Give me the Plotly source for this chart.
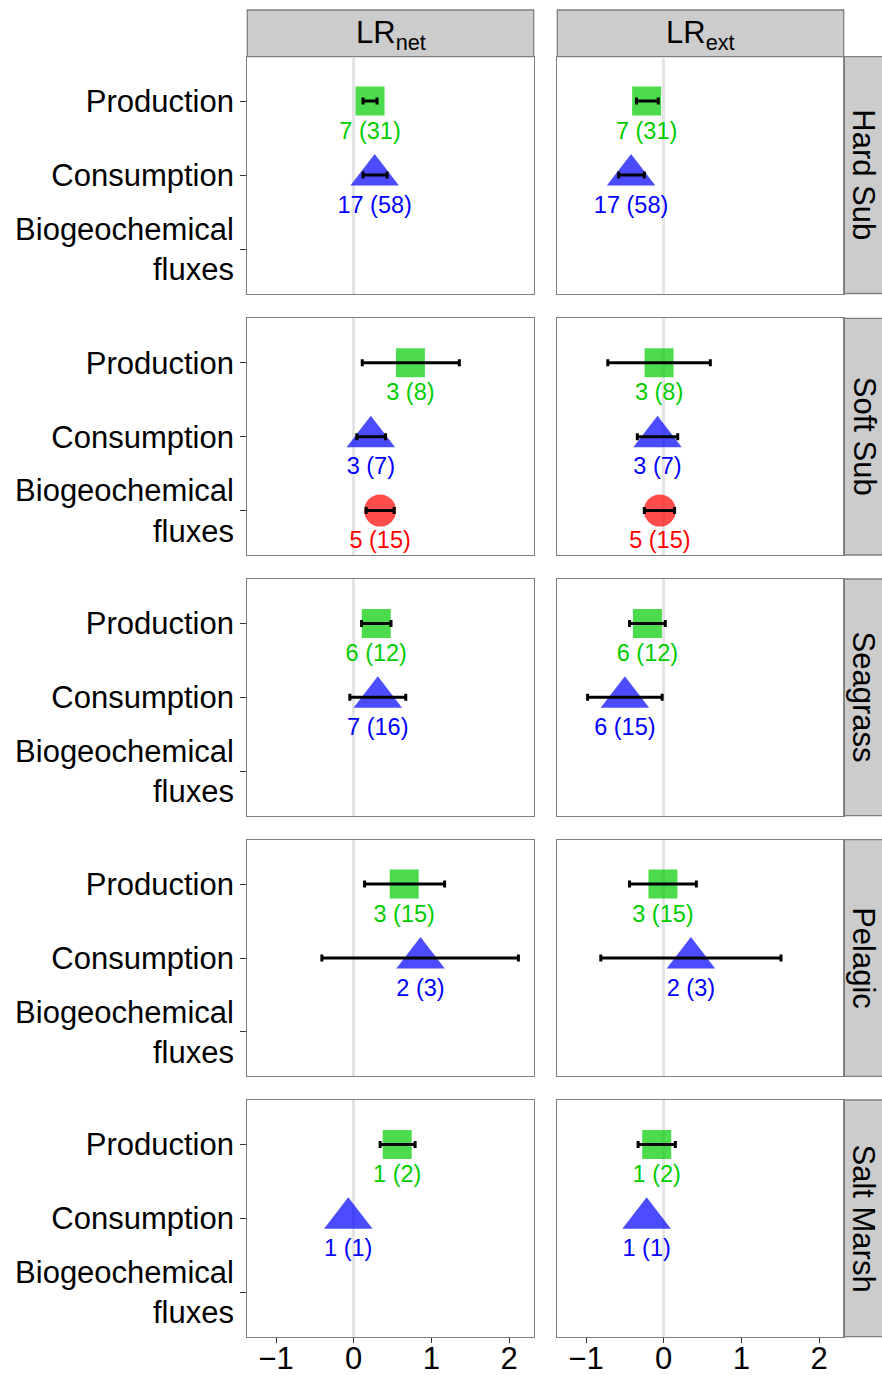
import plotly.graph_objects as go

# ---- data -------------------------------------------------------------
habitats = ["Hard Sub", "Soft Sub", "Seagrass", "Pelagic", "Salt Marsh"]
metrics = ["LR<sub>net</sub>", "LR<sub>ext</sub>"]
responses = ["Production", "Consumption", "Biogeochemical<br>fluxes"]
x_ticks = [-1, 0, 1, 2]

# Production: mean log response ratio with CI bounds, per habitat
prod_net_mean = [0.21, 0.73, 0.29, 0.65, 0.56]
prod_net_lo = [0.12, 0.11, 0.10, 0.14, 0.34]
prod_net_hi = [0.30, 1.36, 0.48, 1.17, 0.79]
prod_ext_mean = [-0.22, -0.06, -0.21, -0.01, -0.09]
prod_ext_lo = [-0.35, -0.72, -0.44, -0.44, -0.33]
prod_ext_hi = [-0.07, 0.60, 0.02, 0.42, 0.15]
prod_net_n = ["7 (31)", "3 (8)", "6 (12)", "3 (15)", "1 (2)"]
prod_ext_n = ["7 (31)", "3 (8)", "6 (12)", "3 (15)", "1 (2)"]

# Consumption
cons_net_mean = [0.27, 0.22, 0.31, 0.86, -0.07]
cons_net_lo = [0.12, 0.04, -0.05, -0.41, None]
cons_net_hi = [0.43, 0.41, 0.67, 2.12, None]
cons_ext_mean = [-0.42, -0.08, -0.50, 0.35, -0.22]
cons_ext_lo = [-0.58, -0.34, -0.98, -0.81, None]
cons_ext_hi = [-0.25, 0.18, -0.02, 1.51, None]
cons_net_n = ["17 (58)", "3 (7)", "7 (16)", "2 (3)", "1 (1)"]
cons_ext_n = ["17 (58)", "3 (7)", "6 (15)", "2 (3)", "1 (1)"]

# Biogeochemical fluxes (only measured on soft substrate)
flux_net_mean = [None, 0.34, None, None, None]
flux_net_lo = [None, 0.16, None, None, None]
flux_net_hi = [None, 0.52, None, None, None]
flux_ext_mean = [None, -0.05, None, None, None]
flux_ext_lo = [None, -0.25, None, None, None]
flux_ext_hi = [None, 0.14, None, None, None]
flux_net_n = [None, "5 (15)", None, None, None]
flux_ext_n = [None, "5 (15)", None, None, None]

series = {
    "Production": {
        "net": (prod_net_mean, prod_net_lo, prod_net_hi, prod_net_n),
        "ext": (prod_ext_mean, prod_ext_lo, prod_ext_hi, prod_ext_n),
    },
    "Consumption": {
        "net": (cons_net_mean, cons_net_lo, cons_net_hi, cons_net_n),
        "ext": (cons_ext_mean, cons_ext_lo, cons_ext_hi, cons_ext_n),
    },
    "Biogeochemical<br>fluxes": {
        "net": (flux_net_mean, flux_net_lo, flux_net_hi, flux_net_n),
        "ext": (flux_ext_mean, flux_ext_lo, flux_ext_hi, flux_ext_n),
    },
}

# ---- styling ---------------------------------------------------------
FONT = "Liberation Sans, Arial, Helvetica, sans-serif"
style = {
    "Production": dict(symbol="square", size=29, fill="rgba(0,204,0,0.7)", text="#00CC00"),
    "Consumption": dict(symbol="triangle-up", size=42, fill="rgba(0,0,255,0.7)", text="#0000FF"),
    "Biogeochemical<br>fluxes": dict(symbol="circle", size=32, fill="rgba(255,0,0,0.7)", text="#FF0000"),
}
LABEL_DROP = 0.43  # label sits below its marker, in category units

W, H = 882, 1375
col_px = [(247.3, 533.7), (557.3, 843.7)]
row_px = [(56.7, 293.5), (318.3, 555.0), (579.0, 815.7), (839.7, 1076.3), (1100.0, 1336.7)]
strip_top = 10.0
strip_right = 884.0


def px_x(v):
    return v / W


def px_y(v):
    return 1 - v / H


fig = go.Figure()
layout = dict(
    width=W, height=H,
    margin=dict(l=0, r=0, t=0, b=0),
    paper_bgcolor="white", plot_bgcolor="white",
    showlegend=False,
    font=dict(family=FONT, color="black"),
    shapes=[], annotations=[],
)

for r, hab in enumerate(habitats):
    for c, key in enumerate(["net", "ext"]):
        k = r * 2 + c + 1
        xa = "x" if k == 1 else f"x{k}"
        ya = "y" if k == 1 else f"y{k}"
        bottom = r == len(habitats) - 1
        left = c == 0
        layout[f"xaxis{k}"] = dict(
            domain=[px_x(col_px[c][0]), px_x(col_px[c][1])],
            anchor=ya, range=[-1.37, 2.317],
            showgrid=False, zeroline=True, zerolinecolor="#e4e4e4", zerolinewidth=2.5,
            showline=True, mirror=True, linecolor="#7f7f7f", linewidth=1.3,
            tickvals=x_ticks, ticks="outside" if bottom else "",
            ticklen=5, tickwidth=1.3, tickcolor="#333333",
            ticklabelstandoff=-11,
            showticklabels=bottom, tickfont=dict(size=31, color="black"),
            automargin=False, fixedrange=True,
        )
        layout[f"yaxis{k}"] = dict(
            domain=[px_y(row_px[r][1]), px_y(row_px[r][0])],
            anchor=xa, range=[3.6, 0.4],
            showgrid=False, zeroline=False,
            showline=True, mirror=True, linecolor="#7f7f7f", linewidth=1.3,
            tickvals=[1, 2, 3], ticktext=responses,
            ticks="outside" if left else "", ticklen=6, tickwidth=1.3, tickcolor="#333333",
            showticklabels=left, tickfont=dict(size=31, color="black"),
            automargin=False, fixedrange=True,
        )

        for j, resp in enumerate(responses):
            mean, lo, hi, nlab = series[resp][key]
            m = mean[r]
            if m is None:
                continue
            pos = j + 1
            st = style[resp]
            fig.add_trace(go.Scatter(
                x=[m], y=[pos], mode="markers", xaxis=xa, yaxis=ya,
                marker=dict(symbol=st["symbol"], size=st["size"], color=st["fill"],
                            line=dict(width=0)),
                hoverinfo="skip",
            ))
            if lo[r] is not None:
                fig.add_trace(go.Scatter(
                    x=[m], y=[pos], mode="markers", xaxis=xa, yaxis=ya,
                    marker=dict(size=1, color="rgba(0,0,0,0)"),
                    error_x=dict(type="data", symmetric=False,
                                 array=[hi[r] - m], arrayminus=[m - lo[r]],
                                 color="black", thickness=3, width=3.5),
                    hoverinfo="skip",
                ))
            fig.add_trace(go.Scatter(
                x=[m], y=[pos + LABEL_DROP], mode="text", xaxis=xa, yaxis=ya,
                text=[nlab[r]], textposition="middle center",
                textfont=dict(size=23.5, color=st["text"], family=FONT),
                hoverinfo="skip",
            ))

# column strips
for c, lab in enumerate(metrics):
    x0, x1 = col_px[c]
    layout["shapes"].append(dict(
        type="rect", xref="paper", yref="paper",
        x0=px_x(x0), x1=px_x(x1), y0=px_y(row_px[0][0]), y1=px_y(strip_top),
        fillcolor="#cccccc", line=dict(color="#7f7f7f", width=1.3), layer="below",
    ))
    layout["annotations"].append(dict(
        xref="paper", yref="paper", x=px_x((x0 + x1) / 2),
        y=px_y((strip_top + row_px[0][0]) / 2 + 2), text=lab, showarrow=False,
        font=dict(size=31, color="black", family=FONT), xanchor="center", yanchor="middle",
    ))

# row strips
for r, hab in enumerate(habitats):
    y0, y1 = row_px[r]
    layout["shapes"].append(dict(
        type="rect", xref="paper", yref="paper",
        x0=px_x(col_px[1][1]), x1=px_x(strip_right), y0=px_y(y1), y1=px_y(y0),
        fillcolor="#cccccc", line=dict(color="#7f7f7f", width=1.3), layer="below",
    ))
    layout["annotations"].append(dict(
        xref="paper", yref="paper", x=px_x((col_px[1][1] + W) / 2 + 1),
        y=px_y((y0 + y1) / 2), text=hab, showarrow=False, textangle=90,
        font=dict(size=31, color="black", family=FONT), xanchor="center", yanchor="middle",
    ))

fig.update_layout(**layout)
fig.write_html("out.html")
